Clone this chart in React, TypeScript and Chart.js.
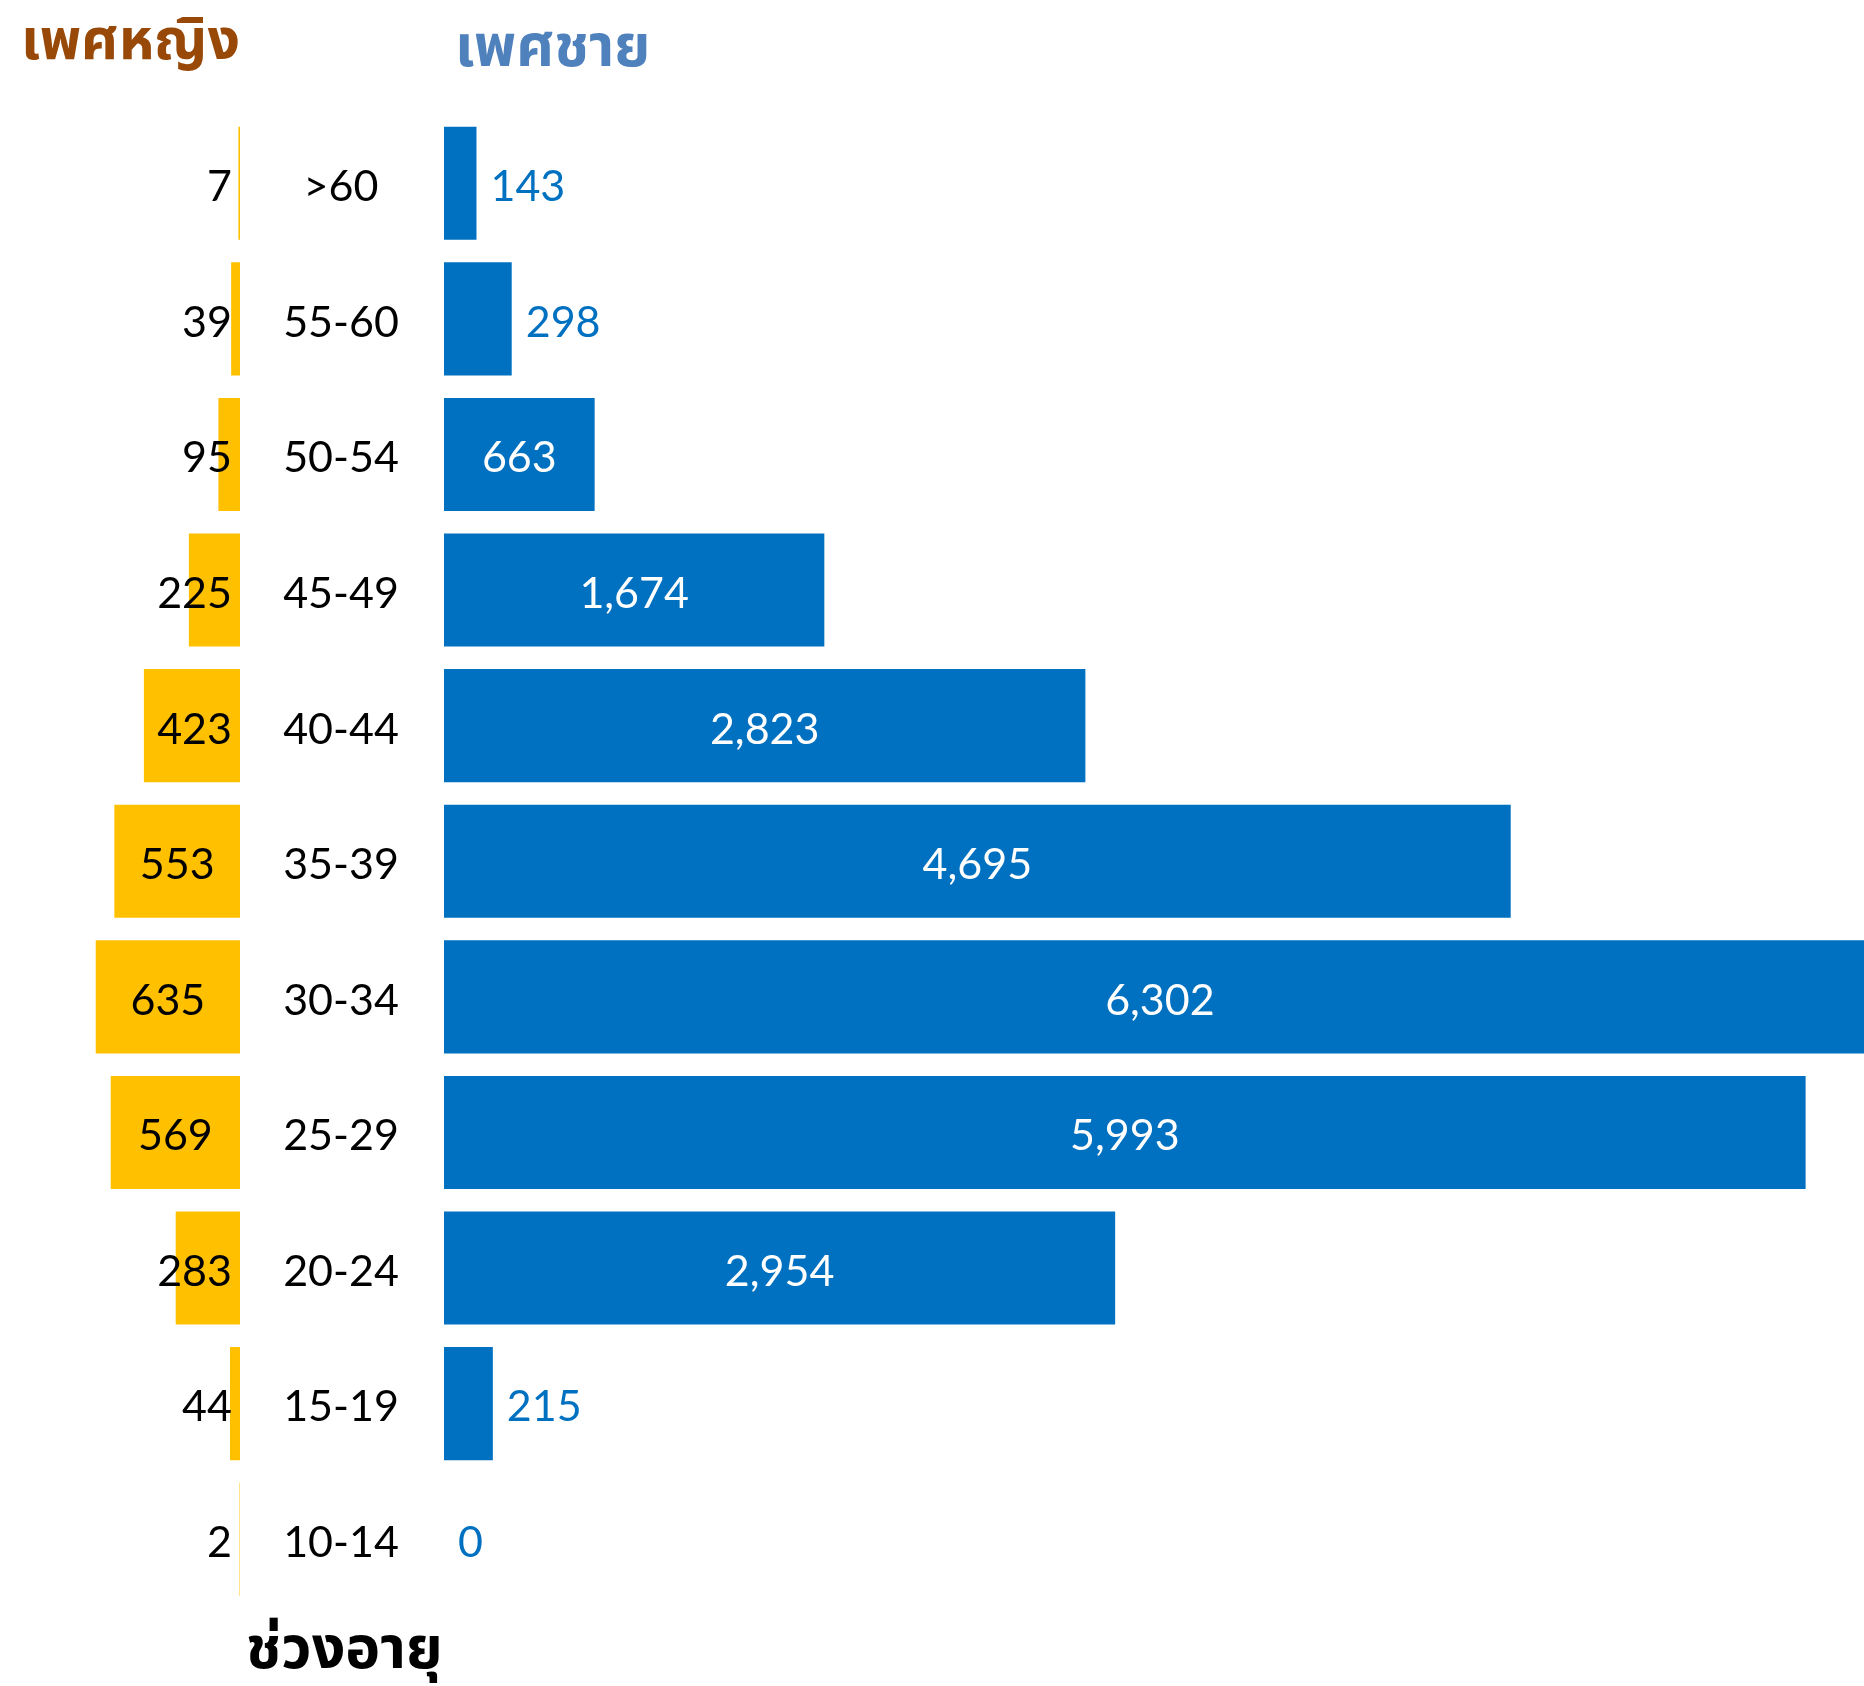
import React, { useEffect, useRef } from "react";
import { Chart, registerables } from "chart.js";

Chart.register(...registerables);

const categories = [">60", "55-60", "50-54", "45-49", "40-44", "35-39", "30-34", "25-29", "20-24", "15-19", "10-14"];
const femaleValues = [7, 39, 95, 225, 423, 553, 635, 569, 283, 44, 2];
const maleValues = [143, 298, 663, 1674, 2823, 4695, 6302, 5993, 2954, 215, 0];

const femaleTitle = "เพศหญิง";
const maleTitle = "เพศชาย";
const axisTitle = "ช่วงอายุ";

const W = 1864;
const H = 1686;
const PLOT_LEFT = 13;
const PLOT_RIGHT = W;
const PLOT_TOP = 115.5;
const PLOT_BOTTOM = 1607;
const PX_PER_UNIT = 0.2272;
const FEMALE_ZERO = 240;
const MALE_ZERO = 444;
const CAT_X = 341;
const TEXT_DY = 4;

const FEMALE_COLOR = "#FFC000";
const MALE_COLOR = "#0070C0";
const NUM_FONT = "43px Lato, Carlito, 'Open Sans', sans-serif";
const THAI_FONT = "'Noto Sans Thai', 'Noto Looped Thai', Loma, Garuda, 'Tlwg Typo', Kinnari, sans-serif";

const fmt = (v: number) => v.toLocaleString("en-US");

const labelPlugin = {
  id: "pyramidLabels",
  afterDatasetsDraw(chart: any) {
    const ctx = chart.ctx;
    ctx.save();
    ctx.font = NUM_FONT;
    ctx.textBaseline = "middle";
    // female
    const fMeta = chart.getDatasetMeta(0);
    fMeta.data.forEach((el: any, i: number) => {
      const v = femaleValues[i];
      ctx.fillStyle = "#000000";
      if (v >= 500) {
        ctx.textAlign = "center";
        ctx.fillText(fmt(v), (el.x + el.base) / 2, el.y + TEXT_DY);
      } else {
        ctx.textAlign = "right";
        ctx.fillText(fmt(v), el.base - 8, el.y + TEXT_DY);
      }
    });
    // male
    const mMeta = chart.getDatasetMeta(1);
    mMeta.data.forEach((el: any, i: number) => {
      const v = maleValues[i];
      if (v >= 400) {
        ctx.fillStyle = "#FFFFFF";
        ctx.textAlign = "center";
        ctx.fillText(fmt(v), (el.x + el.base) / 2, el.y + TEXT_DY);
      } else {
        ctx.fillStyle = MALE_COLOR;
        ctx.textAlign = "left";
        ctx.fillText(fmt(v), el.x + 14, el.y + TEXT_DY);
      }
    });
    // categories
    const yScale = chart.scales.y;
    ctx.fillStyle = "#000000";
    ctx.textAlign = "center";
    categories.forEach((c, i) => {
      ctx.fillText(c, CAT_X, yScale.getPixelForValue(i) + TEXT_DY);
    });
    ctx.restore();
  },
};

export default function App() {
  const ref = useRef<HTMLCanvasElement | null>(null);

  useEffect(() => {
    document.body.style.margin = "0";
    if (!ref.current) return;
    const plotW = PLOT_RIGHT - PLOT_LEFT;
    const span = plotW / PX_PER_UNIT;
    const fMax = (FEMALE_ZERO - PLOT_LEFT) / PX_PER_UNIT;
    const fMin = fMax - span;
    const mMin = -(MALE_ZERO - PLOT_LEFT) / PX_PER_UNIT;
    const mMax = mMin + span;

    const chart = new Chart(ref.current, {
      type: "bar",
      data: {
        labels: categories,
        datasets: [
          {
            label: femaleTitle,
            data: femaleValues,
            backgroundColor: FEMALE_COLOR,
            xAxisID: "xF",
            grouped: false,
            barPercentage: 0.834,
            categoryPercentage: 1,
          } as any,
          {
            label: maleTitle,
            data: maleValues,
            backgroundColor: MALE_COLOR,
            xAxisID: "xM",
            grouped: false,
            barPercentage: 0.834,
            categoryPercentage: 1,
          } as any,
        ],
      },
      options: {
        indexAxis: "y",
        animation: false,
        responsive: false,
        maintainAspectRatio: false,
        devicePixelRatio: 1,
        layout: {
          padding: {
            left: PLOT_LEFT,
            right: W - PLOT_RIGHT,
            top: PLOT_TOP,
            bottom: H - PLOT_BOTTOM,
          },
        },
        plugins: {
          legend: { display: false },
          tooltip: { enabled: false },
          title: { display: false },
        },
        scales: {
          y: { display: false, grid: { display: false } },
          xF: {
            type: "linear",
            display: false,
            reverse: true,
            min: fMin,
            max: fMax,
            grid: { display: false },
          },
          xM: {
            type: "linear",
            display: false,
            min: mMin,
            max: mMax,
            grid: { display: false },
          },
        },
      } as any,
      plugins: [labelPlugin],
    });
    return () => chart.destroy();
  }, []);

  return (
    <div style={{ position: "relative", width: W, height: H, overflow: "hidden", background: "#fff" }}>
      <canvas ref={ref} width={W} height={H} style={{ position: "absolute", left: 0, top: 0, width: W, height: H }} />
      <div style={{ position: "absolute", left: 21, top: 7, fontFamily: THAI_FONT, fontWeight: "bold", fontSize: 57, lineHeight: "70px", color: "#984807", whiteSpace: "nowrap" }}>
        {femaleTitle}
      </div>
      <div style={{ position: "absolute", left: 455, top: 13, fontFamily: THAI_FONT, fontWeight: "bold", fontSize: 58, lineHeight: "70px", color: "#4F81BD", whiteSpace: "nowrap" }}>
        {maleTitle}
      </div>
      <div style={{ position: "absolute", left: 246, top: 1614, fontFamily: THAI_FONT, fontWeight: "bold", fontSize: 59, lineHeight: "72px", color: "#000", whiteSpace: "nowrap" }}>
        {axisTitle}
      </div>
    </div>
  );
}
